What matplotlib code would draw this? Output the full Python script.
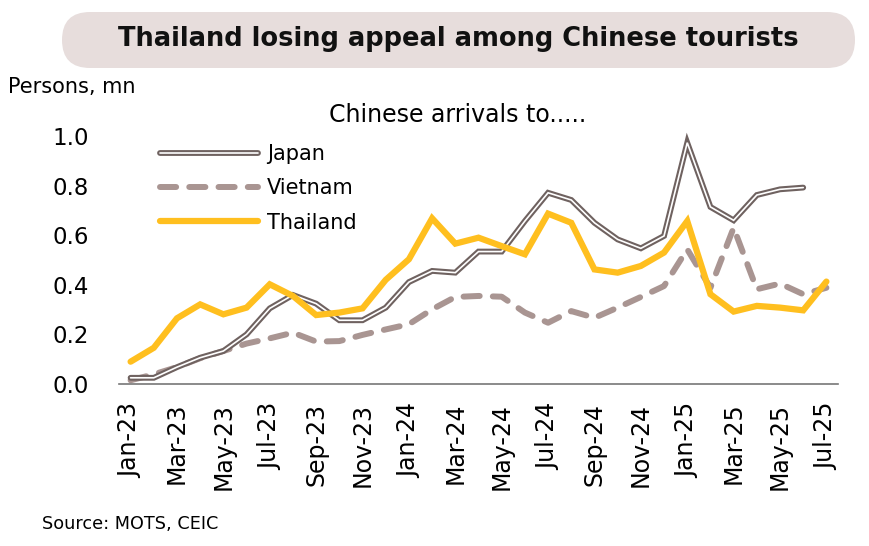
import numpy as np
import matplotlib
matplotlib.use("Agg")
import matplotlib.pyplot as plt
from matplotlib.patches import FancyBboxPatch
from matplotlib.lines import Line2D
import matplotlib.patheffects as pe

# monthly arrivals of Chinese tourists, persons mn (Jan-23 .. Jul-25)
months = ["Jan-23", "Feb-23", "Mar-23", "Apr-23", "May-23", "Jun-23", "Jul-23", "Aug-23",
          "Sep-23", "Oct-23", "Nov-23", "Dec-23", "Jan-24", "Feb-24", "Mar-24", "Apr-24",
          "May-24", "Jun-24", "Jul-24", "Aug-24", "Sep-24", "Oct-24", "Nov-24", "Dec-24",
          "Jan-25", "Feb-25", "Mar-25", "Apr-25", "May-25", "Jun-25", "Jul-25"]

japan = [0.025, 0.025, 0.068, 0.106, 0.133, 0.200, 0.305, 0.359, 0.324, 0.257, 0.257,
         0.308, 0.411, 0.456, 0.449, 0.534, 0.534, 0.657, 0.771, 0.742, 0.650, 0.583,
         0.547, 0.597, 0.973, 0.714, 0.660, 0.762, 0.785, 0.792]

vietnam = [0.015, 0.039, 0.068, 0.104, 0.133, 0.163, 0.184, 0.207, 0.171, 0.173, 0.198,
           0.220, 0.241, 0.301, 0.351, 0.355, 0.352, 0.288, 0.247, 0.294, 0.267, 0.308,
           0.351, 0.395, 0.543, 0.388, 0.630, 0.382, 0.405, 0.362, 0.388]

thailand = [0.090, 0.146, 0.265, 0.321, 0.281, 0.308, 0.402, 0.355, 0.278, 0.288, 0.305,
            0.420, 0.503, 0.668, 0.566, 0.590, 0.556, 0.523, 0.687, 0.650, 0.462, 0.449,
            0.476, 0.530, 0.657, 0.362, 0.292, 0.315, 0.308, 0.297, 0.413]

yticks = [0.0, 0.2, 0.4, 0.6, 0.8, 1.0]

col_japan = "#6f6260"
col_vietnam = "#a99592"
col_thai = "#ffbf1f"

W, H = 870, 546
plt.rcParams['font.family'] = ["DejaVu Sans"]
fig = plt.figure(figsize=(W / 100, H / 100), dpi=100)

# title box
box = FancyBboxPatch((0.62, (H - 68) / 100), 7.93, 0.56,
                     boxstyle="round,pad=0,rounding_size=0.28",
                     transform=fig.dpi_scale_trans, fc="#e7dddc", ec="none")
fig.patches.append(box)
fig.text(458 / W, 1 - 39 / H, "Thailand losing appeal among Chinese tourists",
         ha="center", va="center", fontsize=18.5, fontweight="bold", color="#111111")

ax = fig.add_axes([119 / W, (H - 384) / H, (838 - 119) / W, 248 / H])
x = np.arange(len(months))

ax.plot(x[:len(japan)], japan, color="white", lw=1.2, solid_joinstyle="miter",
        solid_capstyle="round", clip_on=False, zorder=3,
        path_effects=[pe.Stroke(linewidth=4.2, foreground=col_japan), pe.Normal()])
ax.plot(x, vietnam, color=col_vietnam, lw=4.3, dashes=(2.7, 2.2),
        dash_capstyle="round", clip_on=False, zorder=2)
ax.plot(x, thailand, color=col_thai, lw=4.5, solid_capstyle="round",
        solid_joinstyle="miter", clip_on=False, zorder=4)

ax.set_xlim(-0.5, len(months) - 0.5)
ax.set_ylim(0, 1.0)
ax.set_yticks(yticks)
ax.set_yticklabels([f"{v:.1f}" for v in yticks], fontsize=16.5)
ax.set_xticks(x[::2])
ax.set_xticklabels(months[::2], rotation=90, fontsize=17, va="top", ha="center")
ax.tick_params(axis="y", length=0, pad=21.5)
ax.tick_params(axis="x", length=0, pad=13.5)
for s in ["top", "right", "left"]:
    ax.spines[s].set_visible(False)
ax.spines["bottom"].set_color("#777777")
ax.spines["bottom"].set_linewidth(1.2)

# legend
handles = [
    Line2D([0], [0], color="white", lw=1.2, solid_capstyle="round",
           path_effects=[pe.Stroke(linewidth=4.2, foreground=col_japan), pe.Normal()]),
    Line2D([0], [0], color=col_vietnam, lw=4.3, dashes=(2.7, 2.2), dash_capstyle="round"),
    Line2D([0], [0], color=col_thai, lw=4.5, solid_capstyle="round"),
]
ax.legend(handles, ["Japan", "Vietnam", "Thailand"], loc="upper left",
          bbox_to_anchor=(33 / 719, 1.0), frameon=False, fontsize=15,
          handlelength=4.7, handletextpad=0.43, labelspacing=0.68, borderaxespad=0)

fig.text(8 / W, 1 - 87 / H, "Persons, mn", ha="left", va="center", fontsize=15)
fig.text(458 / W, 1 - 115 / H, "Chinese arrivals to.....", ha="center", va="center",
         fontsize=17)
fig.text(42 / W, 1 - 524 / H, "Source: MOTS, CEIC", ha="left", va="center", fontsize=12.7)

fig.savefig("out.png", dpi=100)
